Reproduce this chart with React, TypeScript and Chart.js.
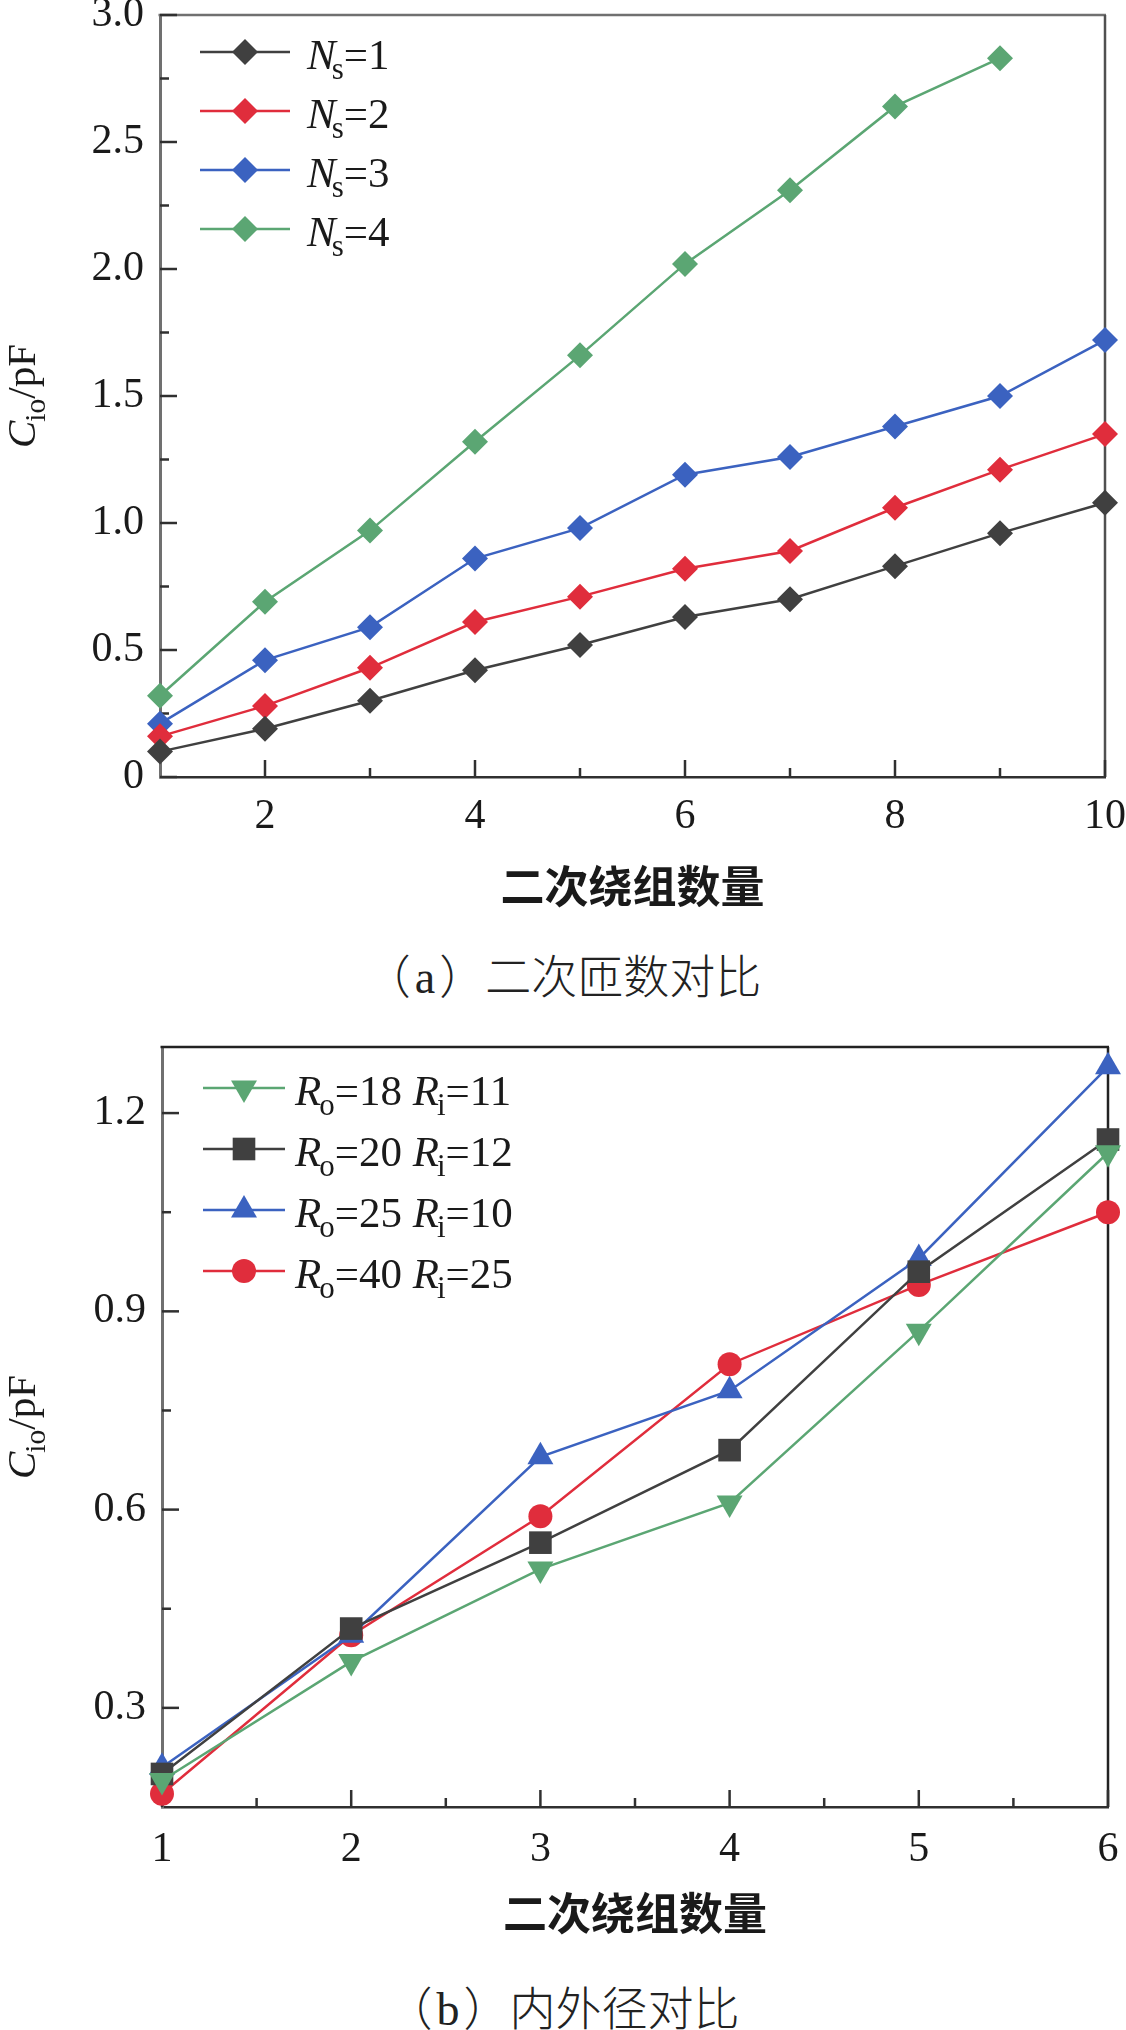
import React, { useEffect, useRef } from 'react';
import { Chart, registerables } from 'chart.js';
import { drawPoint } from 'chart.js/helpers';

Chart.register(...registerables);

const SERIF = '"Liberation Serif"';
const CJK = '"Noto Sans CJK SC"';

// ---- Panel (a): secondary turns ----
const windingCountA = [1, 2, 3, 4, 5, 6, 7, 8, 9, 10];
const turnsLabels = ['1', '2', '3', '4'];
const cioNs1 = [0.1, 0.19, 0.3, 0.42, 0.52, 0.63, 0.7, 0.83, 0.96, 1.08];
const cioNs2 = [0.16, 0.28, 0.43, 0.61, 0.71, 0.82, 0.89, 1.06, 1.21, 1.35];
const cioNs3 = [0.21, 0.46, 0.59, 0.86, 0.98, 1.19, 1.26, 1.38, 1.5, 1.72];
const cioNs4 = [0.32, 0.69, 0.97, 1.32, 1.66, 2.02, 2.31, 2.64, 2.83];
const xTicksA = [2, 4, 6, 8, 10];
const xMinorA = [3, 5, 7, 9];
const yTicksA = [0, 0.5, 1, 1.5, 2, 2.5, 3];
const yTickLabelsA = ['0', '0.5', '1.0', '1.5', '2.0', '2.5', '3.0'];
const yMinorA = [0.25, 0.75, 1.25, 1.75, 2.25, 2.75];

// ---- Panel (b): outer / inner radius ----
const windingCountB = [1, 2, 3, 4, 5, 6];
const outerRadii = ['18', '20', '25', '40'];
const innerRadii = ['11', '12', '10', '25'];
const cioR18 = [0.19, 0.37, 0.51, 0.61, 0.87, 1.14];
const cioR20 = [0.2, 0.42, 0.55, 0.69, 0.96, 1.16];
const cioR25 = [0.21, 0.41, 0.68, 0.78, 0.98, 1.27];
const cioR40 = [0.17, 0.41, 0.59, 0.82, 0.94, 1.05];
const xTicksB = [1, 2, 3, 4, 5, 6];
const xMinorB = [1.5, 2.5, 3.5, 4.5, 5.5];
const yTicksB = [0.3, 0.6, 0.9, 1.2];
const yTickLabelsB = ['0.3', '0.6', '0.9', '1.2'];
const yMinorB = [0.45, 0.75, 1.05];

const xTitle = '二次绕组数量';
const captionA = '（a）二次匝数对比';
const captionB = '（b）内外径对比';

const BLACK = '#404040';
const RED = '#e02d3c';
const BLUE = '#3b62c0';
const GREEN = '#5ba673';

type Seg = { t: string; it?: boolean; sub?: boolean; dx?: number };

const yTitleSegs: Seg[] = [{ t: 'C', it: true }, { t: 'io', sub: true, dx: -1 }, { t: '/pF' }];
const legendA: Seg[][] = turnsLabels.map((n) => [
  { t: 'N', it: true },
  { t: 's', sub: true, dx: -4 },
  { t: '=' + n },
]);
const legendB: Seg[][] = outerRadii.map((ro, i) => [
  { t: 'R', it: true },
  { t: 'o', sub: true, dx: -2 },
  { t: '=' + ro + ' ' },
  { t: 'R', it: true },
  { t: 'i', sub: true, dx: -2 },
  { t: '=' + innerRadii[i] },
]);

// Draws mixed italic / subscript text on one baseline; returns the advance width.
function drawRich(ctx: CanvasRenderingContext2D, segs: Seg[], x: number, y: number, size: number, draw = true) {
  let cx = x;
  for (const s of segs) {
    const fs = s.sub ? size * 0.72 : size;
    ctx.font = `${s.it ? 'italic ' : ''}${fs}px ${SERIF}`;
    cx += s.dx || 0;
    if (draw) ctx.fillText(s.t, cx, s.sub ? y + size * 0.24 : y);
    cx += ctx.measureText(s.t).width;
  }
  return cx - x;
}

const panelDecor = {
  id: 'panelDecor',
  beforeDatasetsDraw(chart: any, _args: any, o: any) {
    const { ctx, chartArea: a } = chart;
    const sx = chart.scales.x;
    const sy = chart.scales.y;
    ctx.save();
    ctx.lineCap = 'butt';
    // upper and right edges of the plot frame
    ctx.lineWidth = o.edgeWidth;
    ctx.strokeStyle = o.topColor;
    ctx.beginPath();
    ctx.moveTo(a.left - 1.5, a.top);
    ctx.lineTo(a.right + 1, a.top);
    ctx.stroke();
    ctx.strokeStyle = o.rightColor;
    ctx.beginPath();
    ctx.moveTo(a.right, a.top);
    ctx.lineTo(a.right, a.bottom);
    ctx.stroke();
    // inward tick marks
    ctx.lineWidth = 2.5;
    const seg = (x0: number, y0: number, x1: number, y1: number) => {
      ctx.beginPath();
      ctx.moveTo(x0, y0);
      ctx.lineTo(x1, y1);
      ctx.stroke();
    };
    ctx.strokeStyle = o.xTickColor;
    sx.ticks.forEach((t: any) => {
      const p = sx.getPixelForValue(t.value);
      seg(p, a.bottom, p, a.bottom - o.major);
    });
    o.minorX.forEach((v: number) => {
      const p = sx.getPixelForValue(v);
      seg(p, a.bottom, p, a.bottom - o.minor);
    });
    ctx.strokeStyle = o.yTickColor;
    sy.ticks.forEach((t: any) => {
      const p = sy.getPixelForValue(t.value);
      seg(a.left, p, a.left + o.major, p);
    });
    o.minorY.forEach((v: number) => {
      const p = sy.getPixelForValue(v);
      seg(a.left, p, a.left + o.minor, p);
    });
    ctx.restore();
  },
  afterDatasetsDraw(chart: any, _args: any, o: any) {
    const { ctx, chartArea: a } = chart;
    ctx.save();
    // legend
    const lg = o.legend;
    chart.data.datasets.forEach((ds: any, i: number) => {
      const y = a.top + lg.top + i * lg.spacing;
      ctx.strokeStyle = ds.borderColor;
      ctx.lineWidth = 2.5;
      ctx.beginPath();
      ctx.moveTo(lg.x0, y);
      ctx.lineTo(lg.x1, y);
      ctx.stroke();
      ctx.fillStyle = ds.pointBackgroundColor;
      drawPoint(ctx, { pointStyle: ds.pointStyle, radius: ds.pointRadius, rotation: ds.pointRotation || 0, borderWidth: 0 } as any, (lg.x0 + lg.x1) / 2, y);
      ctx.fillStyle = '#1a1a1a';
      ctx.textBaseline = 'alphabetic';
      ctx.textAlign = 'left';
      drawRich(ctx, lg.items[i], lg.textX, y + lg.baseOff, lg.size);
    });
    // rotated y-axis title
    const yt = o.yTitle;
    const cy = (a.top + a.bottom) / 2;
    ctx.translate(yt.x, cy);
    ctx.rotate(-Math.PI / 2);
    ctx.fillStyle = '#1a1a1a';
    ctx.textAlign = 'left';
    ctx.textBaseline = 'alphabetic';
    const w = drawRich(ctx, yt.segs, 0, 0, yt.size, false);
    drawRich(ctx, yt.segs, -w / 2, 0, yt.size);
    ctx.restore();
  },
};

type PanelSpec = {
  xs: number[];
  series: { data: number[]; color: string; style: string; radius: number; rotation?: number }[];
  xMin: number;
  xMax: number;
  yMin: number;
  yMax: number;
  xTicks: number[];
  yTicks: number[];
  yLabels: string[];
  xMinor: number[];
  yMinor: number[];
  yAxisW: number;
  xAxisH: number;
  xLabelPad: number;
  padRight: number;
  padTop: number;
  topColor: string;
  rightColor: string;
  legend: any;
};

function makeConfig(p: PanelSpec): any {
  return {
    type: 'line',
    data: {
      datasets: p.series.map((s) => ({
        data: s.data.map((v, i) => ({ x: p.xs[i], y: v })),
        borderColor: s.color,
        backgroundColor: s.color,
        pointBackgroundColor: s.color,
        pointBorderWidth: 0,
        pointStyle: s.style,
        pointRadius: s.radius,
        pointRotation: s.rotation || 0,
        borderWidth: 2.5,
        tension: 0,
        clip: false,
      })),
    },
    options: {
      responsive: false,
      animation: false,
      devicePixelRatio: 1,
      layout: { padding: { left: 0, right: p.padRight, top: p.padTop, bottom: 0 } },
      plugins: {
        legend: { display: false },
        tooltip: { enabled: false },
        panelDecor: {
          edgeWidth: 2.5,
          topColor: p.topColor,
          rightColor: p.rightColor,
          xTickColor: '#303030',
          yTickColor: '#303030',
          major: 17,
          minor: 9,
          minorX: p.xMinor,
          minorY: p.yMinor,
          legend: p.legend,
          yTitle: { segs: yTitleSegs, x: 35, size: 41 },
        },
      },
      scales: {
        x: {
          type: 'linear',
          min: p.xMin,
          max: p.xMax,
          afterBuildTicks: (s: any) => {
            s.ticks = p.xTicks.map((v) => ({ value: v }));
          },
          afterFit: (s: any) => {
            s.height = p.xAxisH;
            s.paddingLeft = 0;
            s.paddingRight = 0;
            s.paddingTop = 0;
            s.paddingBottom = 0;
          },
          grid: { display: false, drawTicks: false, tickLength: 0 },
          border: { display: true, color: '#303030', width: 2.5 },
          ticks: {
            color: '#1a1a1a',
            padding: p.xLabelPad,
            autoSkip: false,
            maxRotation: 0,
            font: { family: SERIF, size: 42, lineHeight: 1 },
            callback: (v: number) => String(v),
          },
          title: {
            display: true,
            text: xTitle,
            color: '#1a1a1a',
            padding: 0,
            font: { family: CJK, size: 44, weight: 'bold', lineHeight: 1.2 },
          },
        },
        y: {
          type: 'linear',
          min: p.yMin,
          max: p.yMax,
          afterBuildTicks: (s: any) => {
            s.ticks = p.yTicks.map((v) => ({ value: v }));
          },
          afterFit: (s: any) => {
            s.width = p.yAxisW;
            s.paddingLeft = 0;
            s.paddingRight = 0;
            s.paddingTop = 0;
            s.paddingBottom = 0;
          },
          grid: { display: false, drawTicks: false, tickLength: 0 },
          border: { display: true, color: '#707070', width: 3 },
          ticks: {
            color: '#1a1a1a',
            padding: 16,
            autoSkip: false,
            font: { family: SERIF, size: 42, lineHeight: 1 },
            callback: (_v: number, i: number) => p.yLabels[i],
          },
        },
      },
    },
    plugins: [panelDecor],
  };
}

const specA: PanelSpec = {
  xs: windingCountA,
  series: [
    { data: cioNs1, color: BLACK, style: 'rectRot', radius: 13 },
    { data: cioNs2, color: RED, style: 'rectRot', radius: 13 },
    { data: cioNs3, color: BLUE, style: 'rectRot', radius: 13 },
    { data: cioNs4, color: GREEN, style: 'rectRot', radius: 13 },
  ],
  xMin: 1,
  xMax: 10,
  yMin: 0,
  yMax: 3,
  xTicks: xTicksA,
  yTicks: yTicksA,
  yLabels: yTickLabelsA,
  xMinor: xMinorA,
  yMinor: yMinorA,
  yAxisW: 160,
  xAxisH: 136,
  xLabelPad: 19,
  padRight: 21,
  padTop: 15,
  topColor: '#707070',
  rightColor: '#505050',
  legend: { items: legendA, top: 37, spacing: 59, x0: 200, x1: 290, textX: 307, baseOff: 17, size: 43 },
};

const specB: PanelSpec = {
  xs: windingCountB,
  series: [
    { data: cioR18, color: GREEN, style: 'triangle', radius: 15, rotation: 180 },
    { data: cioR20, color: BLACK, style: 'rect', radius: 16 },
    { data: cioR25, color: BLUE, style: 'triangle', radius: 15 },
    { data: cioR40, color: RED, style: 'circle', radius: 12 },
  ],
  xMin: 1,
  xMax: 6,
  yMin: 0.15,
  yMax: 1.3,
  xTicks: xTicksB,
  yTicks: yTicksB,
  yLabels: yTickLabelsB,
  xMinor: xMinorB,
  yMinor: yMinorB,
  yAxisW: 162,
  xAxisH: 133,
  xLabelPad: 22,
  padRight: 18,
  padTop: 47,
  topColor: '#222222',
  rightColor: '#222222',
  legend: { items: legendB, top: 41, spacing: 61, x0: 203, x1: 285, textX: 295, baseOff: 17, size: 43 },
};

function Panel({ spec, top, height }: { spec: PanelSpec; top: number; height: number }) {
  const ref = useRef<HTMLCanvasElement>(null);
  useEffect(() => {
    const chart = new Chart(ref.current as HTMLCanvasElement, makeConfig(spec));
    return () => chart.destroy();
  }, [spec]);
  return (
    <canvas
      ref={ref}
      width={1126}
      height={height}
      style={{ position: 'absolute', left: 0, top, width: 1126, height, display: 'block' }}
    />
  );
}

// Caption: CJK glyphs (incl. full-width brackets) in the CJK face, Latin letters in the serif face.
function Caption({ text, center }: { text: string; center: number }) {
  const parts = Array.from(text).map((ch, i) =>
    /[A-Za-z0-9]/.test(ch) ? (
      <span key={i} style={{ fontFamily: SERIF, padding: '0 4px' }}>
        {ch}
      </span>
    ) : (
      <span key={i}>{ch}</span>
    )
  );
  return (
    <div
      style={{
        position: 'absolute',
        left: 0,
        width: 1126,
        top: center - 25,
        height: 50,
        lineHeight: '50px',
        textAlign: 'center',
        fontSize: 46,
        fontFamily: CJK,
        fontWeight: 300,
        color: '#222',
        whiteSpace: 'nowrap',
      }}
    >
      {parts}
    </div>
  );
}

export default function App() {
  return (
    <div style={{ position: 'absolute', left: 0, top: 0, width: 1126, height: 2030, background: '#fff', overflow: 'hidden' }}>
      <Panel spec={specA} top={0} height={913} />
      <Caption text={captionA} center={973} />
      <Panel spec={specB} top={1000} height={940} />
      <Caption text={captionB} center={2005} />
    </div>
  );
}
